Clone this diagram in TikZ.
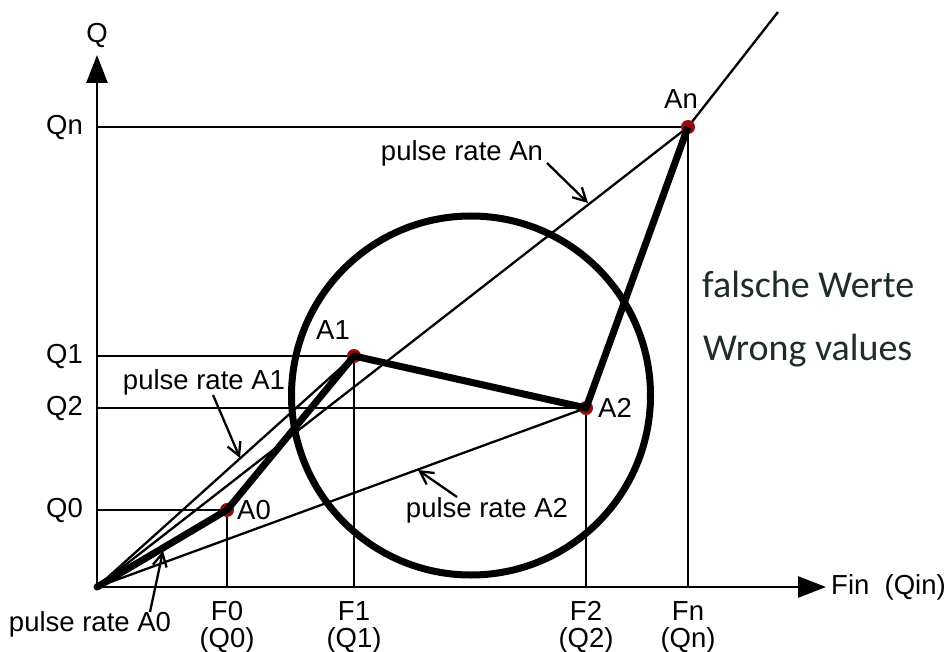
\documentclass[tikz,border=0pt]{standalone}
\usepackage{fontspec}
\setmainfont{Liberation Sans}
\newfontfamily\calibfont{Carlito}
\usetikzlibrary{arrows.meta}
\definecolor{dotred}{RGB}{150,12,12}
\definecolor{wtext}{RGB}{30,45,40}
\begin{document}
\begin{tikzpicture}[x=1pt,y=-1pt,
  lbl/.style={font=\fontsize{27.5}{27}\selectfont, inner sep=0pt},
  bigtxt/.style={font=\calibfont\fontsize{38}{40}\selectfont, text=wtext, inner sep=0pt, anchor=base west},
  axisl/.style={line width=2.6pt, -{Triangle[length=28pt,width=21pt]}},
  guide/.style={line width=2.3pt},
  thinl/.style={line width=2.3pt},
  thickl/.style={line width=7pt, line join=round},
  ring/.style={line width=7pt},
  ptr/.style={line width=2.3pt, -{Straight Barb[length=13pt,width=14pt]}},
  pt/.style={fill=dotred}]
\useasboundingbox (0,0) rectangle (947,652);
% points
\coordinate (O) at (97,587);
\coordinate (A0) at (227,510);
\coordinate (A1) at (354,356);
\coordinate (A2) at (586,408);
\coordinate (An) at (688,127);
\coordinate (Ext) at (778,12);
\coordinate (Yt) at (97,55);
\coordinate (Xt) at (826,587);
\coordinate (Q0) at (97,510);
\coordinate (Q1) at (97,356);
\coordinate (Q2) at (97,408);
\coordinate (Qn) at (97,127);
\coordinate (F0) at (227,587);
\coordinate (F1) at (354,587);
\coordinate (F2) at (586,587);
\coordinate (Fn) at (688,587);
% guides
\draw[guide] (Q0) -- (A0) -- (F0);
\draw[guide] (Q1) -- (A1) -- (F1);
\draw[guide] (Q2) -- (A2) -- (F2);
\draw[guide] (Qn) -- (An) -- (Fn);
% pulse-rate lines
\draw[thinl] (O) -- (A1);
\draw[thinl] (O) -- (A2);
\draw[thinl] (O) -- (An) -- (Ext);
% axes
\draw[axisl] (O) -- (Yt);
\draw[axisl] (O) -- (Xt);
\fill (O) circle[radius=3.5pt];
% circle
\draw[ring] (471,395.5) circle[radius=179.5pt];
% dots
\foreach \p in {A0,A1,A2,An} \fill[pt] (\p) circle[radius=7pt];
% thick polyline
\draw[thickl] (O) -- (A0) -- (A1) -- (A2) -- (An);
% axis labels
\node[lbl] (lQ) at (97,36) {Q};
\node[lbl, anchor=west] (lFin) at (831,587) {Fin\ \ (Qin)};
\node[lbl, anchor=east] (lQn) at (83,127) {Qn};
\node[lbl, anchor=east] (lQ1) at (83,356) {Q1};
\node[lbl, anchor=east] (lQ2) at (83,408) {Q2};
\node[lbl, anchor=east] (lQ0) at (83,510) {Q0};
\node[lbl, align=center, anchor=north] (lF0) at (227,601) {F0\\(Q0)};
\node[lbl, align=center, anchor=north] (lF1) at (354,601) {F1\\(Q1)};
\node[lbl, align=center, anchor=north] (lF2) at (586,601) {F2\\(Q2)};
\node[lbl, align=center, anchor=north] (lFn) at (688,601) {Fn\\(Qn)};
% point labels
\node[lbl, anchor=west] (lA0) at (237,510) {A0};
\node[lbl] (lA1) at (333,330) {A1};
\node[lbl, anchor=west] (lA2) at (598,408) {A2};
\node[lbl] (lAn) at (681,99) {An};
% pulse rate labels
\node[lbl] (pAn) at (462,153) {pulse rate An};
\node[lbl] (pA1) at (204,382) {pulse rate A1};
\node[lbl] (pA2) at (487,510) {pulse rate A2};
\node[lbl] (pA0) at (90,624) {pulse rate A0};
\coordinate (tAn) at (588,203);
\coordinate (sAn) at (547,163);
\coordinate (tA1) at (240,458);
\coordinate (sA1) at (213,395);
\coordinate (tA2) at (418,470);
\coordinate (sA2) at (457,497);
\coordinate (tA0) at (163,551);
\coordinate (sA0) at (150,612);
\draw[ptr] (sAn) -- (tAn);
\draw[ptr] (sA1) -- (tA1);
\draw[ptr] (sA2) -- (tA2);
\draw[ptr] (sA0) -- (tA0);
% side text
\node[bigtxt] (fw) at (702,297) {falsche Werte};
\node[bigtxt] (wv) at (703,360) {Wrong values};
\end{tikzpicture}
\end{document}
